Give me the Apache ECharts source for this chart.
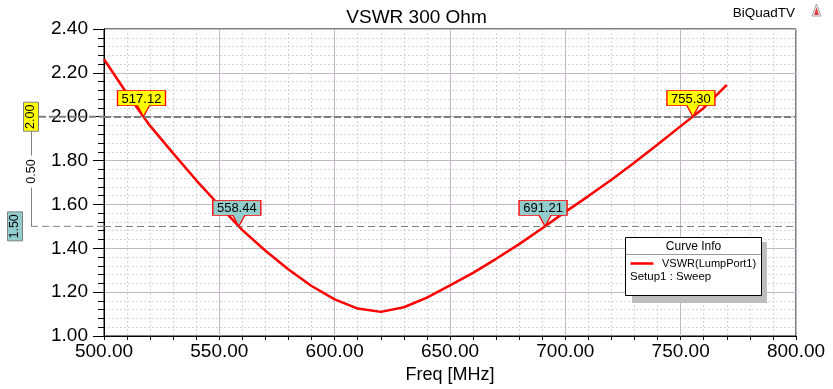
<!DOCTYPE html>
<html><head><meta charset="utf-8">
<script src="https://cdn.jsdelivr.net/npm/echarts@6/dist/echarts.min.js"></script>
<style>html,body{margin:0;padding:0;background:#fff}#c{width:833px;height:389px}</style>
</head><body><div id="c"></div>
<script>
// ---- data ----
const freqs = [500,510,520,530,540,550,560,570,580,590,600,610,620,630,640,650,660,670,680,690,700,710,720,730,740,750,760,770];
const vswr  = [2.262,2.105,1.958,1.833,1.710,1.595,1.483,1.389,1.303,1.228,1.167,1.125,1.110,1.131,1.175,1.231,1.288,1.352,1.419,1.491,1.566,1.638,1.713,1.791,1.873,1.957,2.040,2.145];
const markerFreqs  = [517.12, 558.44, 691.21, 755.30];
const markerValues = [2.00, 1.50, 1.50, 2.00];
const markerLabels = ['517.12', '558.44', '691.21', '755.30'];
const refLevels = [2.00, 1.50];
const refLabels = ['2.00', '1.50'];
const deltaLabel = '0.50';
const xTickLabels = ['500.00','550.00','600.00','650.00','700.00','750.00','800.00'];
const yTickLabels = ['1.00','1.20','1.40','1.60','1.80','2.00','2.20','2.40'];

const FONT = 'Liberation Sans';
const YELLOW = '#ffff00', TEAL = '#93cccc';
const chart = echarts.init(document.getElementById('c'), null, {renderer: 'canvas'});

const pinPath = 'path://M0,0 H48 V15 H32 L26,26 L20,15 H0 Z';
const markData = markerFreqs.map((f, i) => ({
  name: markerLabels[i],
  coord: [f, markerValues[i]],
  itemStyle: {color: markerValues[i] === refLevels[0] ? YELLOW : TEAL, borderColor: '#ff0000', borderWidth: 1}
}));

chart.setOption({
  animation: false,
  backgroundColor: '#fff',
  title: {
    text: 'VSWR 300 Ohm', left: 'center', top: 3,
    textStyle: {fontFamily: FONT, fontSize: 19, fontWeight: 'normal', color: '#000'}
  },
  grid: {left: 104, right: 37, top: 29, bottom: 51, show: true, borderColor: '#000', borderWidth: 1, backgroundColor: '#fff'},
  xAxis: {
    type: 'value', min: 500, max: 800, interval: 50,
    name: 'Freq [MHz]', nameLocation: 'middle', nameGap: 30,
    nameTextStyle: {fontFamily: FONT, fontSize: 18, color: '#000'},
    axisLine: {show: true, lineStyle: {color: '#000', width: 1}},
    axisTick: {show: true, length: 4, lineStyle: {color: '#000'}},
    minorTick: {show: true, splitNumber: 5, length: 4, lineStyle: {color: '#000'}},
    axisLabel: {fontFamily: FONT, fontSize: 19, color: '#000', margin: 6,
      formatter: v => xTickLabels[Math.round((v - 500) / 50)]},
    splitLine: {show: true, lineStyle: {color: '#c4b8c8', width: 1}},
    minorSplitLine: {show: true, lineStyle: {color: '#d8d4dc', width: 1, type: [2, 2]}}
  },
  yAxis: {
    type: 'value', min: 1.0, max: 2.4, interval: 0.2,
    axisLine: {show: true, lineStyle: {color: '#000', width: 1}},
    axisTick: {show: true, length: 11, lineStyle: {color: '#000'}},
    minorTick: {show: true, splitNumber: 5, length: 6, lineStyle: {color: '#000'}},
    axisLabel: {fontFamily: FONT, fontSize: 19, color: '#000', margin: 16,
      formatter: v => yTickLabels[Math.round((v - 1) / 0.2)]},
    splitLine: {show: true, lineStyle: {color: '#c4b8c8', width: 1}},
    minorSplitLine: {show: true, lineStyle: {color: '#d8d4dc', width: 1, type: [2, 2]}}
  },
  series: [{
    type: 'line', name: 'VSWR(LumpPort1)',
    data: freqs.map((f, i) => [f, vswr[i]]),
    showSymbol: false, symbol: 'none',
    lineStyle: {color: '#ff0000', width: 2.5},
    z: 3,
    markLine: {
      silent: true, symbol: 'none', label: {show: false}, animation: false,
      data: [
        {yAxis: refLevels[0], lineStyle: {color: '#7f7f7f', width: 2, type: [7, 3]}},
        {yAxis: refLevels[1], lineStyle: {color: '#808080', width: 1, type: [7, 4]}}
      ]
    },
    markPoint: {
      silent: true, symbol: pinPath, symbolSize: [48, 26], symbolOffset: [-2, -13],
      label: {show: true, position: 'inside', offset: [0, -4.5], fontFamily: FONT, fontSize: 13, color: '#000',
        formatter: p => p.name},
      data: markData
    }
  }]
});

// ---- annotations positioned through the axes ----
const gridLeft = chart.convertToPixel({xAxisIndex: 0}, 500);
const y2 = chart.convertToPixel({yAxisIndex: 0}, refLevels[0]);
const y15 = chart.convertToPixel({yAxisIndex: 0}, refLevels[1]);
const midY = (y2 + y15) / 2;
const boxH = 29;

const txt = (x, y, text, opts) => Object.assign({
  type: 'text', x: x, y: y,
  style: Object.assign({text: text, fontFamily: FONT, fontSize: 11.5, fill: '#000', align: 'left', verticalAlign: 'middle'}, opts || {})
});

chart.setOption({
  graphic: [
    // left reference extensions
    {type: 'line', shape: {x1: 39, y1: y2, x2: gridLeft, y2: y2}, style: {stroke: '#7f7f7f', lineWidth: 2, lineDash: [7, 3]}, z: 5},
    {type: 'line', shape: {x1: 31, y1: y15, x2: gridLeft, y2: y15}, style: {stroke: '#808080', lineWidth: 1, lineDash: [7, 4]}, z: 5},
    {type: 'rect', shape: {x: 23.5, y: y2 - boxH / 2, width: 15, height: boxH}, style: {fill: YELLOW, stroke: '#808080', lineWidth: 1}, z: 6},
    {type: 'text', x: 31, y: y2, rotation: Math.PI / 2, style: {text: refLabels[0], fontFamily: FONT, fontSize: 12.5, fill: '#000', align: 'center', verticalAlign: 'middle'}, z: 7},
    {type: 'rect', shape: {x: 7.5, y: y15 - boxH / 2, width: 15, height: boxH}, style: {fill: TEAL, stroke: '#808080', lineWidth: 1}, z: 6},
    {type: 'text', x: 15, y: y15, rotation: Math.PI / 2, style: {text: refLabels[1], fontFamily: FONT, fontSize: 12.5, fill: '#000', align: 'center', verticalAlign: 'middle'}, z: 7},
    {type: 'line', shape: {x1: 31.5, y1: y2 + boxH / 2, x2: 31.5, y2: midY - 16}, style: {stroke: '#808080', lineWidth: 1}, z: 5},
    {type: 'line', shape: {x1: 31.5, y1: midY + 16, x2: 31.5, y2: y15}, style: {stroke: '#808080', lineWidth: 1}, z: 5},
    {type: 'text', x: 31.5, y: midY, rotation: Math.PI / 2, style: {text: deltaLabel, fontFamily: FONT, fontSize: 12.5, fill: '#000', align: 'center', verticalAlign: 'middle'}, z: 7},
    // top right label and icon
    txt(795, 13, 'BiQuadTV', {fontSize: 13.5, align: 'right'}),
    {type: 'polygon', shape: {points: [[816.5, 4], [812, 16], [821, 16]]}, style: {fill: 'none', stroke: '#a0a0a0', lineWidth: 1}, z: 7},
    {type: 'polygon', shape: {points: [[816.5, 7], [814, 15], [819, 15]]}, style: {fill: '#e04040', stroke: 'none'}, z: 8},
    // legend box
    {type: 'rect', shape: {x: 632, y: 242, width: 135, height: 61}, style: {fill: '#bdbdbd'}, z: 8},
    {type: 'rect', shape: {x: 625.5, y: 237.5, width: 136, height: 58}, style: {fill: '#fff', stroke: '#000', lineWidth: 1}, z: 9},
    {type: 'line', shape: {x1: 626, y1: 254.5, x2: 761, y2: 254.5}, style: {stroke: '#9a9a9a', lineWidth: 1}, z: 10},
    Object.assign(txt(693.5, 246.5, 'Curve Info', {align: 'center', fontSize: 12}), {z: 10}),
    {type: 'line', shape: {x1: 630.5, y1: 263.5, x2: 653.5, y2: 263.5}, style: {stroke: '#ff0000', lineWidth: 2.5}, z: 10},
    Object.assign(txt(662, 264, 'VSWR(LumpPort1)', {fontSize: 11}), {z: 10}),
    Object.assign(txt(630, 277, 'Setup1 : Sweep', {fontSize: 11.5}), {z: 10})
  ]
});
</script>
</body></html>
